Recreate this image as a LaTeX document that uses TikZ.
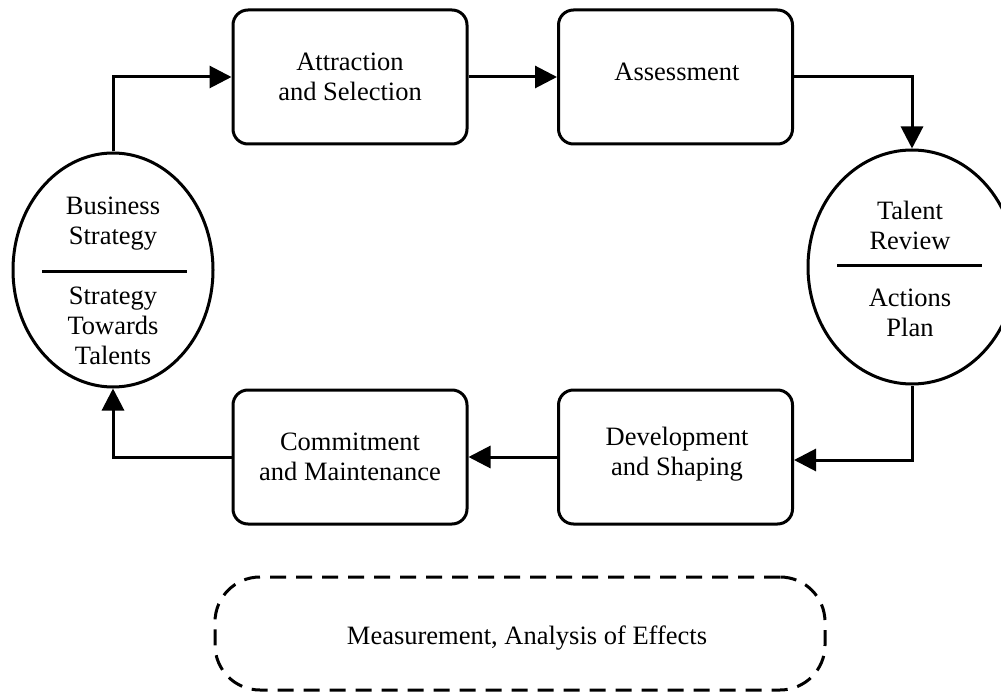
\documentclass[tikz,border=0pt]{standalone}
\usepackage{fontspec}
\setmainfont{Liberation Serif}
\usetikzlibrary{arrows.meta,shapes.geometric}
\begin{document}
\begin{tikzpicture}[x=1pt,y=-1pt,
  every node/.style={font=\fontsize{26.5}{30}\selectfont, align=center, inner sep=0pt},
  stepbox/.style={draw, line width=3pt, rounded corners=15pt, minimum width=234pt, minimum height=134pt},
  oval/.style={draw, ellipse, line width=3pt, inner sep=0pt},
  flow/.style={line width=3pt, -{Triangle[length=22pt,width=22pt]}},
  divider/.style={line width=3pt}]
\useasboundingbox (0,0) rectangle (1001,692);
% boxes
\node[stepbox] (att) at (350,77) {};
\node at (350,77) {Attraction\\and Selection};
\node[stepbox] (ass) at (675.5,77) {};
\node at (677,72) {Assessment};
\node[stepbox] (com) at (350,457) {};
\node at (350,456.5) {Commitment\\and Maintenance};
\node[stepbox] (dev) at (675.5,457) {};
\node at (677,454.5) {Development\\and Shaping};
% ellipses
\node[oval, minimum width=200pt, minimum height=234pt] (bs) at (113,270) {};
\node at (113,224) {Business\\Strategy};
\node at (113,326) {Strategy\\Towards\\Talents};
\draw[divider] (42,272) coordinate (bsl) -- (187,272) coordinate (bsr);
\node[oval, minimum width=208pt, minimum height=234pt] (tr) at (912,267) {};
\node at (910,225) {Talent\\Review};
\node at (910,313) {Actions\\Plan};
\draw[divider] (837,266) coordinate (trl) -- (982,266) coordinate (trr);
% connectors
\draw[flow] (bs.north) |- (att.west);
\draw[flow] (att.east) -- (ass.west);
\draw[flow] (ass.east) -| (tr.north);
\draw[flow] (tr.south) |- ([yshift=-3pt]dev.east);
\draw[flow] (dev.west) -- (com.east);
\draw[flow] (com.west) -| (bs.south);
% dashed box
\node[draw, dashed, dash pattern=on 16pt off 10pt, line width=3pt, rounded corners=45pt,
      minimum width=610pt, minimum height=113pt] (meas) at (520,633.5) {};
\node at (527,638) {Measurement, Analysis of Effects};
\end{tikzpicture}
\end{document}
